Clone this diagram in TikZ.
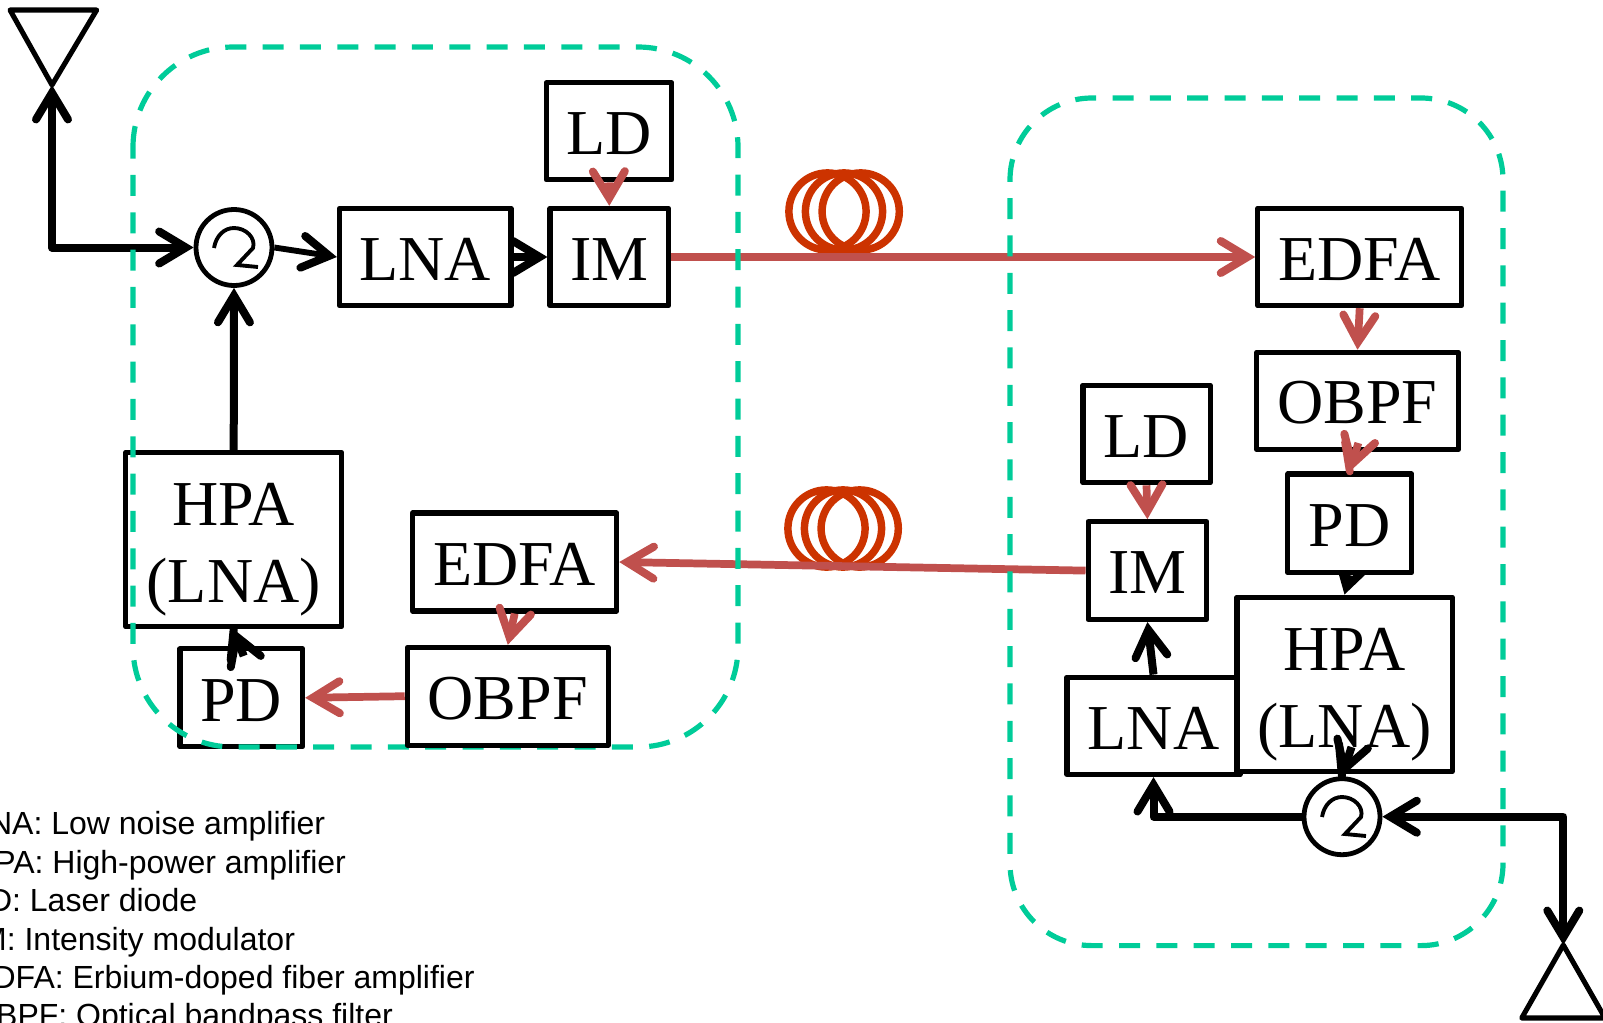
\documentclass[tikz,border=0pt]{standalone}
\usepackage{fontspec}
\setmainfont{Liberation Serif}
\newfontfamily\legendfont{Liberation Sans}
\usetikzlibrary{arrows.meta,backgrounds}
\definecolor{zonegreen}{RGB}{0,204,153}
\definecolor{opticred}{RGB}{192,80,77}
\definecolor{coilred}{RGB}{204,51,0}
\tikzset{
    barbhead/.tip={Straight Barb[length=20pt,width=24pt,line width=6pt,line cap=round,line join=miter]},
    blockbox/.style={draw,fill=white,line width=3.8pt,line join=round,inner sep=0pt,align=center,font=\fontsize{48pt}{58pt}\selectfont,execute at begin node={\rule{0pt}{35pt}}},
    circulator/.style={draw,circle,fill=white,line width=3.6pt,minimum size=57pt,inner sep=0pt},
    blackline/.style={line width=6pt,line join=round},
    redline/.style={color=opticred,line width=5.8pt,line join=round},
    zoneline/.style={color=zonegreen,line width=3.9pt,dash pattern={on 15.75pt off 12.25pt}},
    coilline/.style={color=coilred,line width=5.6pt},
    antennaline/.style={line width=3.8pt,line join=round},
    swirlline/.style={line width=2.9pt,line join=miter},
    legendtext/.style={anchor=base west,inner sep=0pt,font=\legendfont\fontsize{24pt}{28pt}\selectfont}
}

\begin{document}
\begin{tikzpicture}[x=0.75pt,y=0.75pt,yscale=-1,xscale=1]
    \useasboundingbox (0,0) rectangle (1603,1022);

    %Shape: Antennas
    \coordinate (antL) at (52,85);
    \coordinate (antR) at (1563.3,945);
    \draw [antennaline] (10,10) -- (96.7,10) -- (antL) -- cycle ;
    \draw [antennaline] (1521.7,1018) -- (1605,1018) -- (antR) -- cycle ;

    %Shape: Fiber coils
    \draw [coilline] (827.5,211.5) circle [x radius=38.6, y radius=38.6] ;
    \draw [coilline] (844,211.5) circle [x radius=38.6, y radius=38.6] ;
    \draw [coilline] (860.7,211.5) circle [x radius=38.6, y radius=38.6] ;
    \draw [coilline] (826.5,528.5) circle [x radius=38.6, y radius=38.6] ;
    \draw [coilline] (843,528.5) circle [x radius=38.6, y radius=38.6] ;
    \draw [coilline] (859.7,528.5) circle [x radius=38.6, y radius=38.6] ;

    % Left blocks
    \node (ldL) [blockbox,minimum width=94.2pt,minimum height=72.8pt] at (609,131.4) {LD};
    \node (imL) [blockbox,minimum width=89pt,minimum height=73pt] at (609.3,257) {IM};
    \node (lnaL) [blockbox,minimum width=128.7pt,minimum height=73pt] at (425.2,257) {LNA};
    \node (hpaL) [blockbox,minimum width=162pt,minimum height=130.8pt] at (233.7,539.5) {\rule{0pt}{47pt}HPA\\(LNA)};
    \node (pdL) [blockbox,minimum width=92pt,minimum height=73.3pt] at (241.3,697.8) {PD};
    \node (edfaL) [blockbox,minimum width=153pt,minimum height=73.5pt] at (514.7,562) {EDFA};
    \node (circL) [circulator] at (234,247.5) {};

    % Right blocks
    \node (edfaR) [blockbox,minimum width=153pt,minimum height=73pt] at (1359.7,257) {EDFA};
    \node (obpfR) [blockbox,minimum width=151.2pt,minimum height=72.8pt] at (1357.5,400.8) {OBPF};
    \node (pdR) [blockbox,minimum width=92.8pt,minimum height=74pt] at (1349.8,523.3) {PD};
    \node (lnaR) [blockbox,minimum width=129.8pt,minimum height=73.1pt] at (1153.5,725.8) {LNA};
    \node (hpaR) [blockbox,minimum width=161.3pt,minimum height=131pt] at (1344.5,684.4) {\rule{0pt}{47pt}HPA\\(LNA)};
    \node (imR) [blockbox,minimum width=89pt,minimum height=73.4pt] at (1147.4,570.6) {IM};
    \node (ldR) [blockbox,minimum width=95.3pt,minimum height=73.3pt] at (1146.5,433.9) {LD};
    \node (circR) [circulator] at (1342,816.7) {};

    %Shape: Circulator marks
    \draw [swirlline] (214,248) .. controls (216,236) and (224,228) .. (234,228) .. controls (246,228) and (256,238) .. (253,248) -- (237,265) -- (258,267) ;
    \draw [swirlline] (1322,817) .. controls (1324,805) and (1332,797) .. (1342,797) .. controls (1354,797) and (1364,807) .. (1361,817) -- (1345,834) -- (1366,836) ;

    % Arrow hidden under the right PD block
    \begin{scope}[on background layer]
    \draw [blackline,-{barbhead}] (pdR.south) -- (hpaR.north) ;
    \end{scope}

    % Black connectors
    \draw [blackline,{barbhead}-{barbhead}] (circL.west) -| (antL) ;
    \draw [blackline,{barbhead}-{barbhead}] (circR.east) -| (antR) ;
    \draw [blackline,-{barbhead}] (hpaL.north) -- (circL.south) ;
    \draw [blackline,line width=4.4pt,-{barbhead}] (circL.east) -- (lnaL.west) ;
    \draw [blackline,-{barbhead}] (lnaL.east) -- (imL.west) ;
    \draw [blackline,-{barbhead}] (circR.west) -| (lnaR.south) ;
    \draw [blackline,-{barbhead}] (lnaR.north) -- (imR.south) ;

    % Short arrows with a turned head
    \coordinate (pdLfoot) at (230.7,660);
    \coordinate (pdLback) at (243.7,656);
    \coordinate (hpaRfoot) at (1339,744);
    \coordinate (hpaRback) at (1351.5,747);
    \coordinate (obpfRfoot) at (1345,442);
    \coordinate (obpfRback) at (1358.3,443);
    \draw [blackline,line cap=round] (pdLfoot) -- (hpaL.south) ;
    \draw [blackline,-{barbhead}] (pdLback) -- (hpaL.south) ;
    \draw [blackline,line cap=round] (hpaRfoot) -- (circR.north) ;
    \draw [blackline,-{barbhead}] (hpaRback) -- (circR.north) ;

    % Red connectors
    \draw [redline,-{barbhead}] (imL.east) -- (edfaR.west) ;
    \draw [redline,-{barbhead}] (imR.west) -- (edfaL.east) ;
    \draw [redline,-{barbhead}] (ldL.south) -- (imL.north) ;
    \draw [redline,-{barbhead}] (ldR.south) -- (imR.north) ;
    \draw [redline,-{barbhead}] (edfaR.south) -- (obpfR.north) ;
    \draw [redline,line cap=round] (obpfRfoot) -- (pdR.north) ;
    \draw [redline,-{barbhead}] (obpfRback) -- (pdR.north) ;

    %Shape: Dashed zones
    \draw [zoneline] (133,147) .. controls (133,91.8) and (177.8,47) .. (233,47) -- (638,47) .. controls (693.2,47) and (738,91.8) .. (738,147) -- (738,647) .. controls (738,702.2) and (693.2,747) .. (638,747) -- (233,747) .. controls (177.8,747) and (133,702.2) .. (133,647) -- cycle ;
    \draw [zoneline] (1010,180) .. controls (1010,134.7) and (1046.7,98) .. (1092,98) -- (1421,98) .. controls (1466.3,98) and (1503,134.7) .. (1503,180) -- (1503,863.6) .. controls (1503,908.9) and (1466.3,945.6) .. (1421,945.6) -- (1092,945.6) .. controls (1046.7,945.6) and (1010,908.9) .. (1010,863.6) -- cycle ;

    % Block over the dashed zone
    \node (obpfL) [blockbox,minimum width=150.8pt,minimum height=73.3pt] at (507.8,696.2) {OBPF};
    \draw [redline,-{barbhead}] (edfaL.south) -- (obpfL.north) ;
    \draw [redline,-{barbhead}] (obpfL.west) -- (pdL.east) ;

    % Text Node
    \node (legendLNA) [legendtext] at (-29,834.5) {LNA: Low noise amplifier};
    % Text Node
    \node (legendHPA) [legendtext] at (-29,873.4) {HPA: High-power amplifier};
    % Text Node
    \node (legendLD) [legendtext] at (-29,911.3) {LD: Laser diode};
    % Text Node
    \node (legendIM) [legendtext] at (-29,950.2) {IM: Intensity modulator};
    % Text Node
    \node (legendEDFA) [legendtext] at (-29,988.1) {EDFA: Erbium-doped fiber amplifier};
    % Text Node
    \node (legendOBPF) [legendtext] at (-29,1026.5) {OBPF: Optical bandpass filter};
\end{tikzpicture}
\end{document}
